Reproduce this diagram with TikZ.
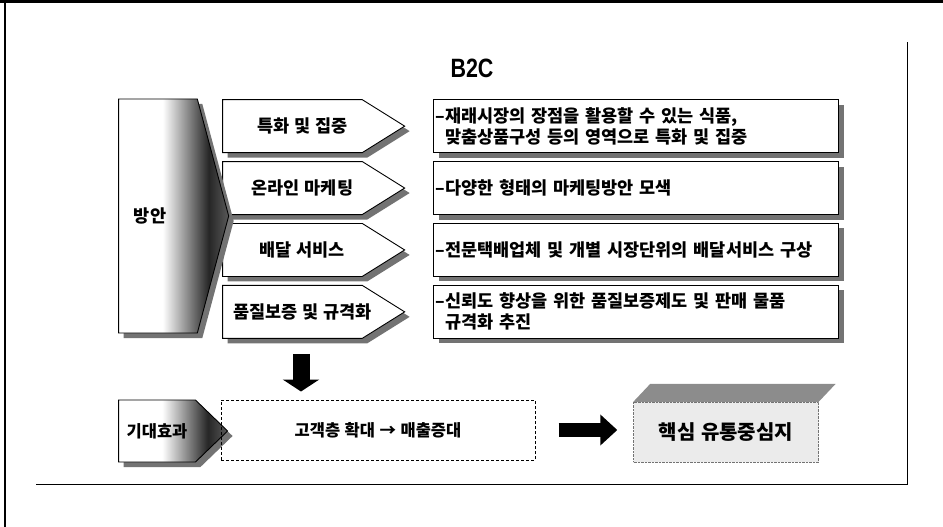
\documentclass[tikz,border=0pt]{standalone}
\usepackage{fontspec}
\setmainfont[WordSpace=1.2]{Noto Sans CJK KR}
\newfontfamily\headfont[FakeStretch=0.81]{Liberation Sans}
\usetikzlibrary{matrix,positioning,shapes.symbols,shadows,arrows.meta}
\pgfdeclarehorizontalshading{fade}{100bp}{color(0bp)=(white); color(45bp)=(white); color(66bp)=(black!85); color(75bp)=(black!65); color(100bp)=(black!65)}

\begin{document}
\begin{tikzpicture}[x=1pt,y=-1pt,
		lift/.style={drop shadow={shadow xshift=5pt,shadow yshift=-5pt,fill=black!55,opacity=1}},
		nudge/.style={execute at begin node={\hspace*{#1}},execute at end node={\hspace*{-#1}}},
		way/.style={signal,signal to=east,signal pointer angle=64,minimum width=182pt,minimum height=53pt,inner sep=0pt,draw,line width=0.9pt,fill=white,lift,nudge=10pt,font=\bfseries\fontsize{17.5}{20}\selectfont},
		note/.style={rectangle,draw,line width=0.9pt,fill=white,text width=401pt,inner xsep=2pt,inner ysep=0pt,minimum height=53pt,align=left,lift,font=\bfseries\fontsize{17.5}{21}\selectfont},
		plan/.style={signal,signal to=east,draw,line width=0.9pt,shading=fade,inner sep=0pt,lift,font=\bfseries\fontsize{17.5}{20}\selectfont},
		goal/.style={draw,line width=1pt,dash pattern=on 3pt off 2pt,minimum width=314pt,minimum height=60pt,font=\bfseries\fontsize{16.5}{20}\selectfont},
		hub/.style={draw=black!55,densely dotted,fill=black!8,minimum width=185pt,minimum height=60pt,font=\bfseries\fontsize{20}{22}\selectfont},
		fat/.style={line width=17pt,-{Triangle[width=36pt,length=12pt]}}]
	\useasboundingbox (0,0) rectangle (943,527);
	\draw[line width=3pt] (0,1.5) -- (943,1.5);
	\draw[line width=1.5pt] (5,0) -- (5,527);
	\draw[line width=1pt] (36,484) -- (907,484) -- (907,42);
	\node[font=\headfont\bfseries\fontsize{26.5}{30}\selectfont] (head) at (472,68) {B2C};
	\matrix (m) [matrix of nodes,anchor=north west,inner sep=0pt,row sep=8pt,column sep=28pt,
		nodes={anchor=center},column 1/.style={nodes={way}},column 2/.style={nodes={note}}] at (222,99)
	{
		특화 및 집중 & –재래시장의 장점을 활용할 수 있는 식품,\newline\phantom{–}맞춤상품구성 등의 영역으로 특화 및 집중 \\
		온라인 마케팅 & –다양한 형태의 마케팅방안 모색 \\
		배달 서비스 & –전문택배업체 및 개별 시장단위의 배달서비스 구상 \\
		품질보증 및 규격화 & –신뢰도 향상을 위한 품질보증제도 및 판매 물품\newline\phantom{–}규격화 추진 \\
	};
	\node[plan,signal pointer angle=150,minimum width=110pt,minimum height=234pt,nudge=-8pt] (scheme) at (158,216) {방안};
	\node[plan,signal pointer angle=88,minimum width=109pt,minimum height=62pt,font=\bfseries\fontsize{16.5}{20}\selectfont] (gain) at (157,431) {기대효과};
	\node[goal] (effect) at (378,430) {고객층 확대 → 매출증대};
	\node[hub] (core) at (726,432) {핵심 유통중심지};
	\fill[black!45] (core.north west) -- (core.north east) -- ([shift={(17,-18)}]core.north east) -- ([shift={(17,-18)}]core.north west) -- cycle;
	\coordinate (pivot) at (301,0);
	\draw[fat,shorten <=15pt,shorten >=8pt] (m-4-1.south -| pivot) -- (effect.north -| pivot);
	\draw[fat,line width=14pt,-{Triangle[width=30pt,length=17pt]},shorten <=23pt,shorten >=16pt] (effect.east) -- (effect.east -| core.west);
\end{tikzpicture}
\end{document}
